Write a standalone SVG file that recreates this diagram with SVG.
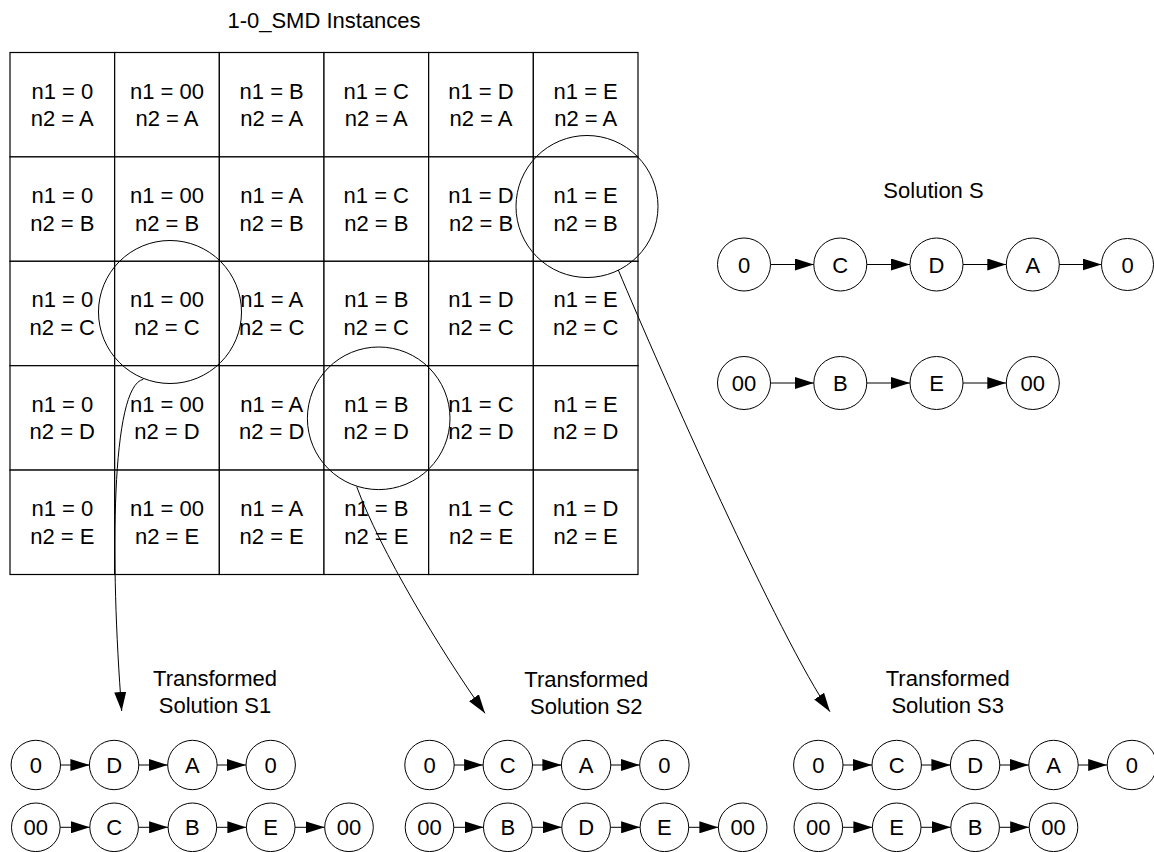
<svg xmlns="http://www.w3.org/2000/svg" width="1154" height="852" viewBox="0 0 1154 852">
  <style>
    text { font-family: "Liberation Sans", Arial, sans-serif; font-size: 22px; fill: #000; text-anchor: middle; }
    .cell rect { fill: #fff; stroke: #000; stroke-width: 1.2; }
    .node circle { fill: #fff; stroke: #000; stroke-width: 1; }
    .ring { fill: none; stroke: #000; stroke-width: 1; }
    .link { fill: none; stroke: #000; stroke-width: 1; marker-end: url(#ah); }
  </style>
  <defs>
    <marker id="ah" markerUnits="userSpaceOnUse" markerWidth="19" markerHeight="12" viewBox="0 0 19 12" refX="19" refY="6" orient="auto">
      <path d="M0,0 L19,6 L0,12 z" fill="#000"/>
    </marker>
  </defs>

  <rect width="1154" height="852" fill="#fff"/>

  <text x="324" y="28">1-0_SMD Instances</text>

  <!-- instance table: 6 columns x 5 rows -->
  <g id="table">
    <g id="cell-r1c1" class="cell"><rect x="10" y="52.5" width="104.67" height="104.4"/><text x="62.3" y="98.5">n1 = 0</text><text x="62.3" y="126.2">n2 = A</text></g>
    <g id="cell-r1c2" class="cell"><rect x="114.67" y="52.5" width="104.67" height="104.4"/><text x="167" y="98.5">n1 = 00</text><text x="167" y="126.2">n2 = A</text></g>
    <g id="cell-r1c3" class="cell"><rect x="219.33" y="52.5" width="104.67" height="104.4"/><text x="271.7" y="98.5">n1 = B</text><text x="271.7" y="126.2">n2 = A</text></g>
    <g id="cell-r1c4" class="cell"><rect x="324" y="52.5" width="104.67" height="104.4"/><text x="376.3" y="98.5">n1 = C</text><text x="376.3" y="126.2">n2 = A</text></g>
    <g id="cell-r1c5" class="cell"><rect x="428.67" y="52.5" width="104.67" height="104.4"/><text x="481" y="98.5">n1 = D</text><text x="481" y="126.2">n2 = A</text></g>
    <g id="cell-r1c6" class="cell"><rect x="533.33" y="52.5" width="104.67" height="104.4"/><text x="585.7" y="98.5">n1 = E</text><text x="585.7" y="126.2">n2 = A</text></g>

    <g id="cell-r2c1" class="cell"><rect x="10" y="156.9" width="104.67" height="104.4"/><text x="62.3" y="202.9">n1 = 0</text><text x="62.3" y="230.6">n2 = B</text></g>
    <g id="cell-r2c2" class="cell"><rect x="114.67" y="156.9" width="104.67" height="104.4"/><text x="167" y="202.9">n1 = 00</text><text x="167" y="230.6">n2 = B</text></g>
    <g id="cell-r2c3" class="cell"><rect x="219.33" y="156.9" width="104.67" height="104.4"/><text x="271.7" y="202.9">n1 = A</text><text x="271.7" y="230.6">n2 = B</text></g>
    <g id="cell-r2c4" class="cell"><rect x="324" y="156.9" width="104.67" height="104.4"/><text x="376.3" y="202.9">n1 = C</text><text x="376.3" y="230.6">n2 = B</text></g>
    <g id="cell-r2c5" class="cell"><rect x="428.67" y="156.9" width="104.67" height="104.4"/><text x="481" y="202.9">n1 = D</text><text x="481" y="230.6">n2 = B</text></g>
    <g id="cell-r2c6" class="cell"><rect x="533.33" y="156.9" width="104.67" height="104.4"/><text x="585.7" y="202.9">n1 = E</text><text x="585.7" y="230.6">n2 = B</text></g>

    <g id="cell-r3c1" class="cell"><rect x="10" y="261.3" width="104.67" height="104.4"/><text x="62.3" y="307.3">n1 = 0</text><text x="62.3" y="335">n2 = C</text></g>
    <g id="cell-r3c2" class="cell"><rect x="114.67" y="261.3" width="104.67" height="104.4"/><text x="167" y="307.3">n1 = 00</text><text x="167" y="335">n2 = C</text></g>
    <g id="cell-r3c3" class="cell"><rect x="219.33" y="261.3" width="104.67" height="104.4"/><text x="271.7" y="307.3">n1 = A</text><text x="271.7" y="335">n2 = C</text></g>
    <g id="cell-r3c4" class="cell"><rect x="324" y="261.3" width="104.67" height="104.4"/><text x="376.3" y="307.3">n1 = B</text><text x="376.3" y="335">n2 = C</text></g>
    <g id="cell-r3c5" class="cell"><rect x="428.67" y="261.3" width="104.67" height="104.4"/><text x="481" y="307.3">n1 = D</text><text x="481" y="335">n2 = C</text></g>
    <g id="cell-r3c6" class="cell"><rect x="533.33" y="261.3" width="104.67" height="104.4"/><text x="585.7" y="307.3">n1 = E</text><text x="585.7" y="335">n2 = C</text></g>

    <g id="cell-r4c1" class="cell"><rect x="10" y="365.7" width="104.67" height="104.4"/><text x="62.3" y="411.7">n1 = 0</text><text x="62.3" y="439.4">n2 = D</text></g>
    <g id="cell-r4c2" class="cell"><rect x="114.67" y="365.7" width="104.67" height="104.4"/><text x="167" y="411.7">n1 = 00</text><text x="167" y="439.4">n2 = D</text></g>
    <g id="cell-r4c3" class="cell"><rect x="219.33" y="365.7" width="104.67" height="104.4"/><text x="271.7" y="411.7">n1 = A</text><text x="271.7" y="439.4">n2 = D</text></g>
    <g id="cell-r4c4" class="cell"><rect x="324" y="365.7" width="104.67" height="104.4"/><text x="376.3" y="411.7">n1 = B</text><text x="376.3" y="439.4">n2 = D</text></g>
    <g id="cell-r4c5" class="cell"><rect x="428.67" y="365.7" width="104.67" height="104.4"/><text x="481" y="411.7">n1 = C</text><text x="481" y="439.4">n2 = D</text></g>
    <g id="cell-r4c6" class="cell"><rect x="533.33" y="365.7" width="104.67" height="104.4"/><text x="585.7" y="411.7">n1 = E</text><text x="585.7" y="439.4">n2 = D</text></g>

    <g id="cell-r5c1" class="cell"><rect x="10" y="470.1" width="104.67" height="104.4"/><text x="62.3" y="516.1">n1 = 0</text><text x="62.3" y="543.8">n2 = E</text></g>
    <g id="cell-r5c2" class="cell"><rect x="114.67" y="470.1" width="104.67" height="104.4"/><text x="167" y="516.1">n1 = 00</text><text x="167" y="543.8">n2 = E</text></g>
    <g id="cell-r5c3" class="cell"><rect x="219.33" y="470.1" width="104.67" height="104.4"/><text x="271.7" y="516.1">n1 = A</text><text x="271.7" y="543.8">n2 = E</text></g>
    <g id="cell-r5c4" class="cell"><rect x="324" y="470.1" width="104.67" height="104.4"/><text x="376.3" y="516.1">n1 = B</text><text x="376.3" y="543.8">n2 = E</text></g>
    <g id="cell-r5c5" class="cell"><rect x="428.67" y="470.1" width="104.67" height="104.4"/><text x="481" y="516.1">n1 = C</text><text x="481" y="543.8">n2 = E</text></g>
    <g id="cell-r5c6" class="cell"><rect x="533.33" y="470.1" width="104.67" height="104.4"/><text x="585.7" y="516.1">n1 = D</text><text x="585.7" y="543.8">n2 = E</text></g>
  </g>

  <!-- selected instances -->
  <g id="rings">
    <circle class="ring" cx="170" cy="312" r="71.5"/>
    <circle class="ring" cx="378.7" cy="418.3" r="71.3"/>
    <circle class="ring" cx="587" cy="206.5" r="71"/>
  </g>

  <!-- labels -->
  <g id="labels">
    <text x="933.5" y="198.3">Solution S</text>
    <text x="215" y="685.5">Transformed</text><text x="215" y="712.5">Solution S1</text>
    <text x="586.3" y="687">Transformed</text><text x="586.3" y="714">Solution S2</text>
    <text x="947.7" y="685.5">Transformed</text><text x="947.7" y="712.5">Solution S3</text>
  </g>

  <!-- route nodes -->
  <g id="solution-s">
    <g id="s-r1-n1" class="node"><circle cx="744" cy="264.5" r="26.5"/><text x="744" y="272.5">0</text></g>
    <g id="s-r1-n2" class="node"><circle cx="840.3" cy="264.5" r="26.5"/><text x="840.3" y="272.5">C</text></g>
    <g id="s-r1-n3" class="node"><circle cx="936.5" cy="264.5" r="26.5"/><text x="936.5" y="272.5">D</text></g>
    <g id="s-r1-n4" class="node"><circle cx="1032.8" cy="264.5" r="26.5"/><text x="1032.8" y="272.5">A</text></g>
    <g id="s-r1-n5" class="node"><circle cx="1127.5" cy="264.5" r="26"/><text x="1127.5" y="272.5">0</text></g>
    <g id="s-r2-n1" class="node"><circle cx="744" cy="383" r="26.5"/><text x="744" y="391">00</text></g>
    <g id="s-r2-n2" class="node"><circle cx="840.3" cy="383" r="26.5"/><text x="840.3" y="391">B</text></g>
    <g id="s-r2-n3" class="node"><circle cx="936.5" cy="383" r="26.5"/><text x="936.5" y="391">E</text></g>
    <g id="s-r2-n4" class="node"><circle cx="1032.8" cy="383" r="26.5"/><text x="1032.8" y="391">00</text></g>
  </g>

  <g id="solution-s1">
    <g id="s1-r1-n1" class="node"><circle cx="35.8" cy="765" r="24.7"/><text x="35.8" y="772.5">0</text></g>
    <g id="s1-r1-n2" class="node"><circle cx="114.1" cy="765" r="24.7"/><text x="114.1" y="772.5">D</text></g>
    <g id="s1-r1-n3" class="node"><circle cx="192.4" cy="765" r="24.7"/><text x="192.4" y="772.5">A</text></g>
    <g id="s1-r1-n4" class="node"><circle cx="270.7" cy="765" r="24.7"/><text x="270.7" y="772.5">0</text></g>
    <g id="s1-r2-n1" class="node"><circle cx="35.8" cy="827.3" r="24.3"/><text x="35.8" y="834.8">00</text></g>
    <g id="s1-r2-n2" class="node"><circle cx="114.1" cy="827.3" r="24.3"/><text x="114.1" y="834.8">C</text></g>
    <g id="s1-r2-n3" class="node"><circle cx="192.4" cy="827.3" r="24.3"/><text x="192.4" y="834.8">B</text></g>
    <g id="s1-r2-n4" class="node"><circle cx="270.7" cy="827.3" r="24.3"/><text x="270.7" y="834.8">E</text></g>
    <g id="s1-r2-n5" class="node"><circle cx="349" cy="827.3" r="24.3"/><text x="349" y="834.8">00</text></g>
  </g>

  <g id="solution-s2">
    <g id="s2-r1-n1" class="node"><circle cx="429.5" cy="765" r="24.7"/><text x="429.5" y="772.5">0</text></g>
    <g id="s2-r1-n2" class="node"><circle cx="507.8" cy="765" r="24.7"/><text x="507.8" y="772.5">C</text></g>
    <g id="s2-r1-n3" class="node"><circle cx="586.1" cy="765" r="24.7"/><text x="586.1" y="772.5">A</text></g>
    <g id="s2-r1-n4" class="node"><circle cx="664.4" cy="765" r="24.7"/><text x="664.4" y="772.5">0</text></g>
    <g id="s2-r2-n1" class="node"><circle cx="429.5" cy="827.3" r="24.3"/><text x="429.5" y="834.8">00</text></g>
    <g id="s2-r2-n2" class="node"><circle cx="507.8" cy="827.3" r="24.3"/><text x="507.8" y="834.8">B</text></g>
    <g id="s2-r2-n3" class="node"><circle cx="586.1" cy="827.3" r="24.3"/><text x="586.1" y="834.8">D</text></g>
    <g id="s2-r2-n4" class="node"><circle cx="664.4" cy="827.3" r="24.3"/><text x="664.4" y="834.8">E</text></g>
    <g id="s2-r2-n5" class="node"><circle cx="742.7" cy="827.3" r="24.3"/><text x="742.7" y="834.8">00</text></g>
  </g>

  <g id="solution-s3">
    <g id="s3-r1-n1" class="node"><circle cx="818.3" cy="765" r="24.7"/><text x="818.3" y="772.5">0</text></g>
    <g id="s3-r1-n2" class="node"><circle cx="896.7" cy="765" r="24.7"/><text x="896.7" y="772.5">C</text></g>
    <g id="s3-r1-n3" class="node"><circle cx="975.1" cy="765" r="24.7"/><text x="975.1" y="772.5">D</text></g>
    <g id="s3-r1-n4" class="node"><circle cx="1053.5" cy="765" r="24.7"/><text x="1053.5" y="772.5">A</text></g>
    <g id="s3-r1-n5" class="node"><circle cx="1131.9" cy="765" r="24.7"/><text x="1131.9" y="772.5">0</text></g>
    <g id="s3-r2-n1" class="node"><circle cx="818.3" cy="827.3" r="24.3"/><text x="818.3" y="834.8">00</text></g>
    <g id="s3-r2-n2" class="node"><circle cx="896.7" cy="827.3" r="24.3"/><text x="896.7" y="834.8">E</text></g>
    <g id="s3-r2-n3" class="node"><circle cx="975.1" cy="827.3" r="24.3"/><text x="975.1" y="834.8">B</text></g>
    <g id="s3-r2-n4" class="node"><circle cx="1053.5" cy="827.3" r="24.3"/><text x="1053.5" y="834.8">00</text></g>
  </g>

  <!-- connectors -->
  <g id="connectors">
    <path class="link" d="M143.3,379.3 C111,386 110,560 121.7,711"/>
    <path class="link" d="M356.7,486.7 C380,550 440,650 485,713.3"/>
    <path class="link" d="M618.3,270 C660,370 780,640 830,711.7"/>

    <path class="link" d="M770.5,264.5 H813.8"/>
    <path class="link" d="M866.8,264.5 H910"/>
    <path class="link" d="M963,264.5 H1006.3"/>
    <path class="link" d="M1059.3,264.5 H1101.5"/>
    <path class="link" d="M770.5,383 H813.8"/>
    <path class="link" d="M866.8,383 H910"/>
    <path class="link" d="M963,383 H1006.3"/>

    <path class="link" d="M60.5,765 H89.4"/>
    <path class="link" d="M138.8,765 H167.7"/>
    <path class="link" d="M217.1,765 H246"/>
    <path class="link" d="M60.1,827.3 H89.8"/>
    <path class="link" d="M138.4,827.3 H168.1"/>
    <path class="link" d="M216.7,827.3 H246.4"/>
    <path class="link" d="M295,827.3 H324.7"/>

    <path class="link" d="M454.2,765 H483.1"/>
    <path class="link" d="M532.5,765 H561.4"/>
    <path class="link" d="M610.8,765 H639.7"/>
    <path class="link" d="M453.8,827.3 H483.5"/>
    <path class="link" d="M532.1,827.3 H561.8"/>
    <path class="link" d="M610.4,827.3 H640.1"/>
    <path class="link" d="M688.7,827.3 H718.4"/>

    <path class="link" d="M843,765 H872"/>
    <path class="link" d="M921.4,765 H950.4"/>
    <path class="link" d="M999.8,765 H1028.8"/>
    <path class="link" d="M1078.2,765 H1107.2"/>
    <path class="link" d="M842.6,827.3 H872.4"/>
    <path class="link" d="M921,827.3 H950.8"/>
    <path class="link" d="M999.4,827.3 H1029.2"/>
  </g>
</svg>
